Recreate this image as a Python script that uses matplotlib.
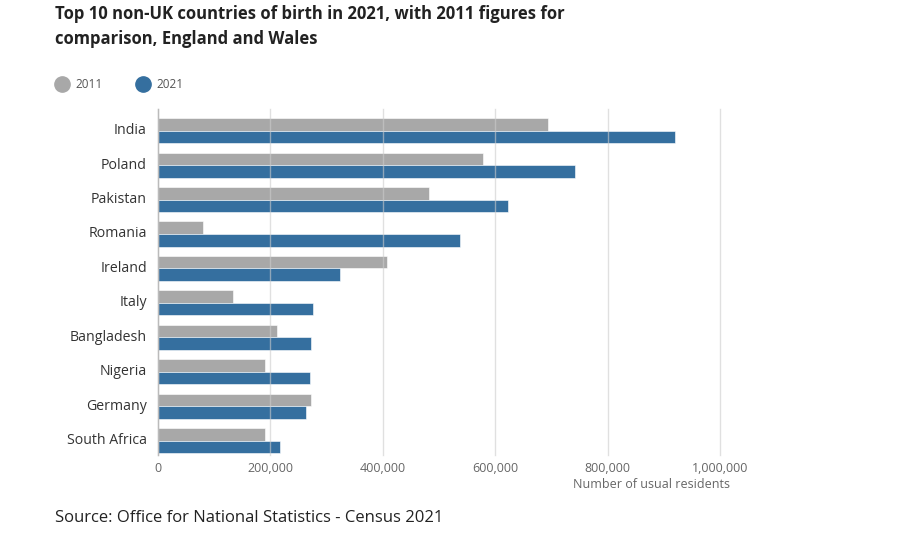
import matplotlib
matplotlib.use("Agg")
import matplotlib.pyplot as plt
from matplotlib.lines import Line2D

plt.rcParams['font.family'] = ['Open Sans', 'DejaVu Sans']

countries = ["India", "Poland", "Pakistan", "Romania", "Ireland", "Italy",
             "Bangladesh", "Nigeria", "Germany", "South Africa"]
values_2011 = [694000, 579000, 482000, 80000, 407000, 134000, 211000, 190000, 273000, 190000]
values_2021 = [920000, 742000, 623000, 538000, 324000, 276000, 272000, 270000, 263000, 217000]
xticks = [0, 200000, 400000, 600000, 800000, 1000000]
xtick_labels = ["0", "200,000", "400,000", "600,000", "800,000", "1,000,000"]

W, H = 904, 538
fig = plt.figure(figsize=(W / 100, H / 100), dpi=100)
ax = fig.add_axes([158 / W, 1 - 455 / H, 562 / W, 346 / H])

gray = "#a8a8a8"
blue = "#356f9f"
h = 0.365
ys = list(range(len(countries)))
ax.barh([y - h / 2 for y in ys], values_2011, height=h, color=gray, zorder=2,
        edgecolor="white", linewidth=0.4)
ax.barh([y + h / 2 for y in ys], values_2021, height=h, color=blue, zorder=2,
        edgecolor="white", linewidth=0.4)

ax.set_xlim(0, 1000000)
ax.set_ylim(9.42, -0.63)
ax.set_xticks(xticks)
ax.set_xticklabels(xtick_labels)
ax.set_yticks([y - 0.06 for y in ys])
ax.set_yticklabels(countries)
ax.tick_params(axis='x', length=0, pad=5, labelsize=9, labelcolor="#666666")
ax.tick_params(axis='y', length=0, pad=8, labelsize=10.2, labelcolor="#333333")
for x in xticks:
    ax.axvline(x, color="#cccccc", linewidth=1, zorder=3, alpha=0.6, clip_on=False)
ax.axvline(0, color="#bbbbbb", linewidth=1, zorder=3, clip_on=False)
for s in ax.spines.values():
    s.set_visible(False)

fig.text(730 / W, 1 - 485 / H, "Number of usual residents", ha="right", va="center",
         fontsize=9, color="#666666")

fig.text(55 / W, 1 - 14 / H, "Top 10 non-UK countries of birth in 2021, with 2011 figures for",
         ha="left", va="center", fontsize=12, fontweight="bold", color="#222222")
fig.text(55 / W, 1 - 39 / H, "comparison, England and Wales",
         ha="left", va="center", fontsize=12, fontweight="bold", color="#222222")

fig.add_artist(Line2D([62 / W], [1 - 84 / H], marker="o", markersize=11, color=gray,
                      transform=fig.transFigure, linestyle="none"))
fig.text(75 / W, 1 - 84 / H, "2011", ha="left", va="center", fontsize=8.5, color="#555555")
fig.add_artist(Line2D([143 / W], [1 - 84 / H], marker="o", markersize=11, color=blue,
                      transform=fig.transFigure, linestyle="none"))
fig.text(156 / W, 1 - 84 / H, "2021", ha="left", va="center", fontsize=8.5, color="#555555")

fig.text(55 / W, 1 - 518 / H, "Source: Office for National Statistics - Census 2021",
         ha="left", va="center", fontsize=12, color="#222222")

fig.savefig("out.png", dpi=100)
